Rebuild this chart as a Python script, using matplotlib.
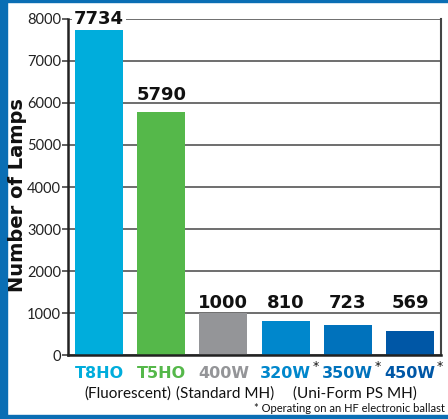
import matplotlib
matplotlib.use("Agg")
import matplotlib.pyplot as plt
from matplotlib.patches import Rectangle

categories = ["T8HO", "T5HO", "400W", "320W", "350W", "450W"]
values = [7734, 5790, 1000, 810, 723, 569]
colors = ["#00ADDC", "#55B84A", "#949598", "#0087CC", "#0072BC", "#0057A6"]
asterisk = [False, False, False, True, True, True]
groups = [("(Fluorescent)", 0.47), ("(Standard MH)", 2.03), ("(Uni-Form PS MH)", 4.12)]
yticks = [0, 1000, 2000, 3000, 4000, 5000, 6000, 7000, 8000]
ylabel = "Number of Lamps"
footnote = "* Operating on an HF electronic ballast"

fig = plt.figure(figsize=(4.48, 4.19), dpi=100)
fig.patch.set_facecolor("white")
ax = fig.add_axes([68/448, 1-355/419, (441-68)/448, (355-19)/419])

# frame decorations
blue = "#0A6EB4"
fig.add_artist(Rectangle((0, 0), 7/448, 1, transform=fig.transFigure, color=blue, zorder=0))
fig.add_artist(Rectangle((0, 1-2/419), 1, 2/419, transform=fig.transFigure, color=blue, zorder=0))
fig.add_artist(Rectangle((0, 1/419), 1, 3/419, transform=fig.transFigure, color=blue, zorder=0))

x = list(range(len(categories)))
ax.bar(x, values, width=0.77, color=colors, zorder=2)
ax.set_xlim(-0.5, len(categories) - 0.5)
ax.set_ylim(0, 8000)
ax.set_yticks(yticks)
ax.set_yticklabels([str(t) for t in yticks], fontsize=10.5, family="Lato", color="#222222")
ax.tick_params(axis="y", length=4, width=1.2, color="#444444", pad=1)
ax.set_xticks([])
ax.grid(axis="y", color="#555555", linewidth=1.2, zorder=1)
for s in ["left", "bottom"]:
    ax.spines[s].set_color("#222222")
    ax.spines[s].set_linewidth(1.8)
for s in ["right", "top"]:
    ax.spines[s].set_color("#444444")
    ax.spines[s].set_linewidth(1.5)
ax.spines["top"].set_visible(False)

label_style = dict(fontsize=13, family="DejaVu Sans", fontweight="bold", color="#111111", zorder=3)
for i, v in enumerate(values):
    if i == 0:
        ax.text(i, 8000, f"{v}", ha="center", va="center", **label_style,
                bbox=dict(facecolor="white", edgecolor="none", pad=1.5))
    elif v > 2000:
        ax.text(i, v + 280, f"{v}", ha="center", va="baseline", **label_style)
    else:
        ax.text(i, 1120, f"{v}", ha="center", va="baseline", **label_style)

ax.set_ylabel(ylabel, fontsize=14, family="DejaVu Sans", fontweight="bold", color="#111111")
ax.yaxis.set_label_coords(-0.11, 0.475)

for i, (c, col) in enumerate(zip(categories, colors)):
    ax.text(i, -270, c, ha="center", va="top", fontsize=11.5, family="DejaVu Sans",
            fontweight="bold", color=col, clip_on=False)
    if asterisk[i]:
        ax.text(i + 0.485, -130, "*", ha="center", va="top", fontsize=9, family="DejaVu Sans",
                color="#111111", clip_on=False)

for label, pos in groups:
    ax.text(pos, -740, label, ha="center", va="top", fontsize=11, family="Lato",
            color="#111111", clip_on=False)

fig.text(445/448, 1-408/419, footnote, ha="right", va="center", fontsize=8, family="Lato",
         color="#111111")

fig.savefig("out.png", dpi=100, facecolor="white")
